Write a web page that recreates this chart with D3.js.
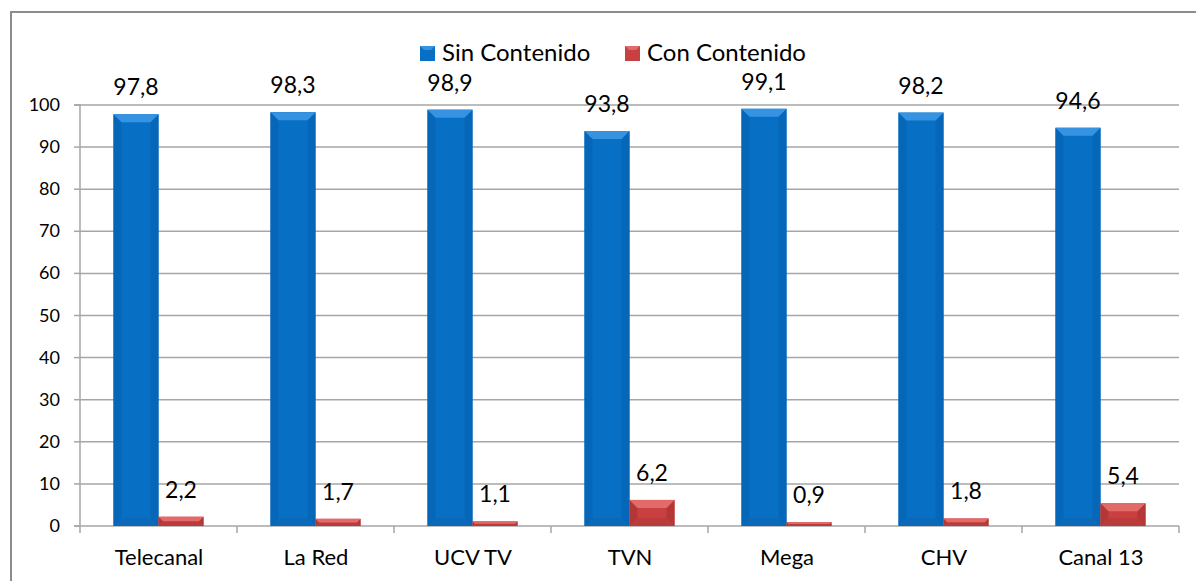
<!DOCTYPE html>
<html>
<head>
<meta charset="utf-8">
<script src="https://cdn.jsdelivr.net/npm/d3@7"></script>
<style>
  body { margin: 0; background: #fff; }
  svg { font-family: Lato, "Open Sans", sans-serif; }
  svg text { font-weight: 400; }
</style>
</head>
<body>
<svg id="chart" width="1196" height="581"></svg>
<script>
// chart data
var canales = ["Telecanal", "La Red", "UCV TV", "TVN", "Mega", "CHV", "Canal 13"];
var series = ["Sin Contenido", "Con Contenido"];
var sinContenido = [97.8, 98.3, 98.9, 93.8, 99.1, 98.2, 94.6];
var conContenido = [2.2, 1.7, 1.1, 6.2, 0.9, 1.8, 5.4];
var yTicks = [0, 10, 20, 30, 40, 50, 60, 70, 80, 90, 100];

var svg = d3.select("#chart");
var margin = {top: 105, right: 17, bottom: 55, left: 80};
var W = 1196, H = 581;
var plotW = W - margin.left - margin.right;
var plotH = 526 - margin.top;

var colors = {
    "Sin Contenido": {base: "#0870c4", top: "#3593e2", side: "#0667b8", bottom: "#0a69b8"},
    "Con Contenido": {base: "#c8403f", top: "#e26a68", side: "#b53636", bottom: "#bb3a3a"}
};

// outer frame
svg.append("rect")
    .attr("x", 11).attr("y", 12)
    .attr("width", W + 20).attr("height", H + 20)
    .attr("fill", "none")
    .attr("stroke", "#8c8c8c")
    .attr("stroke-width", 2);

var x0 = d3.scaleBand().domain(canales).range([0, plotW]).padding(0);
var x1 = d3.scaleBand().domain(series).range([0, x0.bandwidth()]).paddingInner(0).paddingOuter(0.744);
var y = d3.scaleLinear().domain([0, 100]).range([plotH, 0]);

var g = svg.append("g")
    .attr("transform", "translate(" + margin.left + "," + margin.top + ")");

// gridlines
g.append("g")
    .selectAll("line")
    .data(yTicks.slice(1))
    .enter().append("line")
    .attr("x1", 0).attr("x2", plotW)
    .attr("y1", function(d) { return y(d); })
    .attr("y2", function(d) { return y(d); })
    .attr("stroke", "#a6a6a6")
    .attr("stroke-width", 1.5);

// y axis
var yAxis = g.append("g")
    .call(d3.axisLeft(y).tickValues(yTicks).tickSize(6).tickPadding(14).offset(0));
yAxis.attr("font-family", null).attr("font-size", null);
yAxis.select(".domain").attr("stroke", "#a6a6a6").attr("stroke-width", 1.5);
yAxis.selectAll(".tick line").attr("stroke", "#a6a6a6").attr("stroke-width", 1.5);
yAxis.selectAll(".tick text")
    .attr("y", function(d) { return Math.round(y(d)) - y(d); })
    .style("font-size", "18px")
    .attr("fill", "#000");

// x axis
var xAxis = g.append("g")
    .attr("transform", "translate(0," + plotH + ")")
    .call(d3.axisBottom(x0).tickSize(0).tickPadding(0).offset(0));
xAxis.attr("font-family", null).attr("font-size", null);
xAxis.select(".domain").remove();
xAxis.selectAll(".tick")
    .attr("transform", function(d) { return "translate(" + Math.round(x0(d) + x0.bandwidth() / 2) + ",0)"; });
xAxis.selectAll(".tick text")
    .attr("y", 39)
    .attr("dy", 0)
    .style("font-size", "22px")
    .attr("fill", "#000");

// axis line and category ticks
g.append("line")
    .attr("x1", 0).attr("x2", plotW)
    .attr("y1", plotH).attr("y2", plotH)
    .attr("stroke", "#a6a6a6").attr("stroke-width", 1.5);
var bounds = canales.map(function(c) { return x0(c); }).concat([plotW]);
g.append("g").selectAll("line")
    .data(bounds)
    .enter().append("line")
    .attr("x1", function(d) { return d; })
    .attr("x2", function(d) { return d; })
    .attr("y1", plotH).attr("y2", plotH + 7)
    .attr("stroke", "#a6a6a6").attr("stroke-width", 1.5);

// bars
var rows = canales.map(function(c, i) {
    return {canal: c, values: [
        {key: "Sin Contenido", value: sinContenido[i]},
        {key: "Con Contenido", value: conContenido[i]}
    ]};
});

var groups = g.selectAll(".grupo")
    .data(rows)
    .enter().append("g")
    .attr("class", "grupo")
    .attr("transform", function(d) { return "translate(" + x0(d.canal) + ",0)"; });

var bars = groups.selectAll(".barra")
    .data(function(d) { return d.values; })
    .enter().append("g")
    .attr("class", "barra");

function bevel(d) {
    var bx = x1(d.key), bw = x1.bandwidth();
    var by = y(d.value), bh = plotH - by;
    var b = Math.min(8, bh / 2, bw / 2);
    return {x: bx, y: by, w: bw, h: bh, b: b};
}

bars.append("rect")
    .attr("x", function(d) { return x1(d.key); })
    .attr("y", function(d) { return y(d.value); })
    .attr("width", x1.bandwidth())
    .attr("height", function(d) { return plotH - y(d.value); })
    .attr("fill", function(d) { return colors[d.key].base; });

// side bevels
bars.append("path")
    .attr("fill", function(d) { return colors[d.key].side; })
    .attr("d", function(d) {
        var s = bevel(d);
        return "M" + s.x + "," + s.y + "L" + (s.x + s.b) + "," + (s.y + s.b) +
            "L" + (s.x + s.b) + "," + (s.y + s.h - s.b) + "L" + s.x + "," + (s.y + s.h) + "Z" +
            "M" + (s.x + s.w) + "," + s.y + "L" + (s.x + s.w - s.b) + "," + (s.y + s.b) +
            "L" + (s.x + s.w - s.b) + "," + (s.y + s.h - s.b) + "L" + (s.x + s.w) + "," + (s.y + s.h) + "Z";
    });

// bottom bevel
bars.append("path")
    .attr("fill", function(d) { return colors[d.key].bottom; })
    .attr("d", function(d) {
        var s = bevel(d);
        return "M" + s.x + "," + (s.y + s.h) + "L" + (s.x + s.b) + "," + (s.y + s.h - s.b) +
            "L" + (s.x + s.w - s.b) + "," + (s.y + s.h - s.b) + "L" + (s.x + s.w) + "," + (s.y + s.h) + "Z";
    });

// top bevel
bars.append("path")
    .attr("fill", function(d) { return colors[d.key].top; })
    .attr("d", function(d) {
        var s = bevel(d);
        return "M" + s.x + "," + s.y + "L" + (s.x + s.w) + "," + s.y +
            "L" + (s.x + s.w - s.b) + "," + (s.y + s.b) + "L" + (s.x + s.b) + "," + (s.y + s.b) + "Z";
    });

// value labels
bars.append("text")
    .attr("x", function(d) { return x1(d.key) + x1.bandwidth() / 2; })
    .attr("y", function(d) { return y(d.value) - 19; })
    .attr("text-anchor", "middle")
    .style("font-size", "23px")
    .attr("fill", "#000")
    .text(function(d) { return d.value.toFixed(1).replace(".", ","); });

// legend
var legend = svg.append("g").attr("class", "legend");
var legendX = [420, 625];
series.forEach(function(s, i) {
    var lg = legend.append("g").attr("transform", "translate(" + legendX[i] + ",46)");
    lg.append("rect")
        .attr("width", 15).attr("height", 15)
        .attr("fill", colors[s].base);
    lg.append("path")
        .attr("d", "M0,0L15,0L11,4L4,4Z")
        .attr("fill", colors[s].top);
    lg.append("text")
        .attr("x", 22).attr("y", 15)
        .style("font-size", "24px")
        .attr("fill", "#000")
        .text(s);
});
</script>
</body>
</html>
